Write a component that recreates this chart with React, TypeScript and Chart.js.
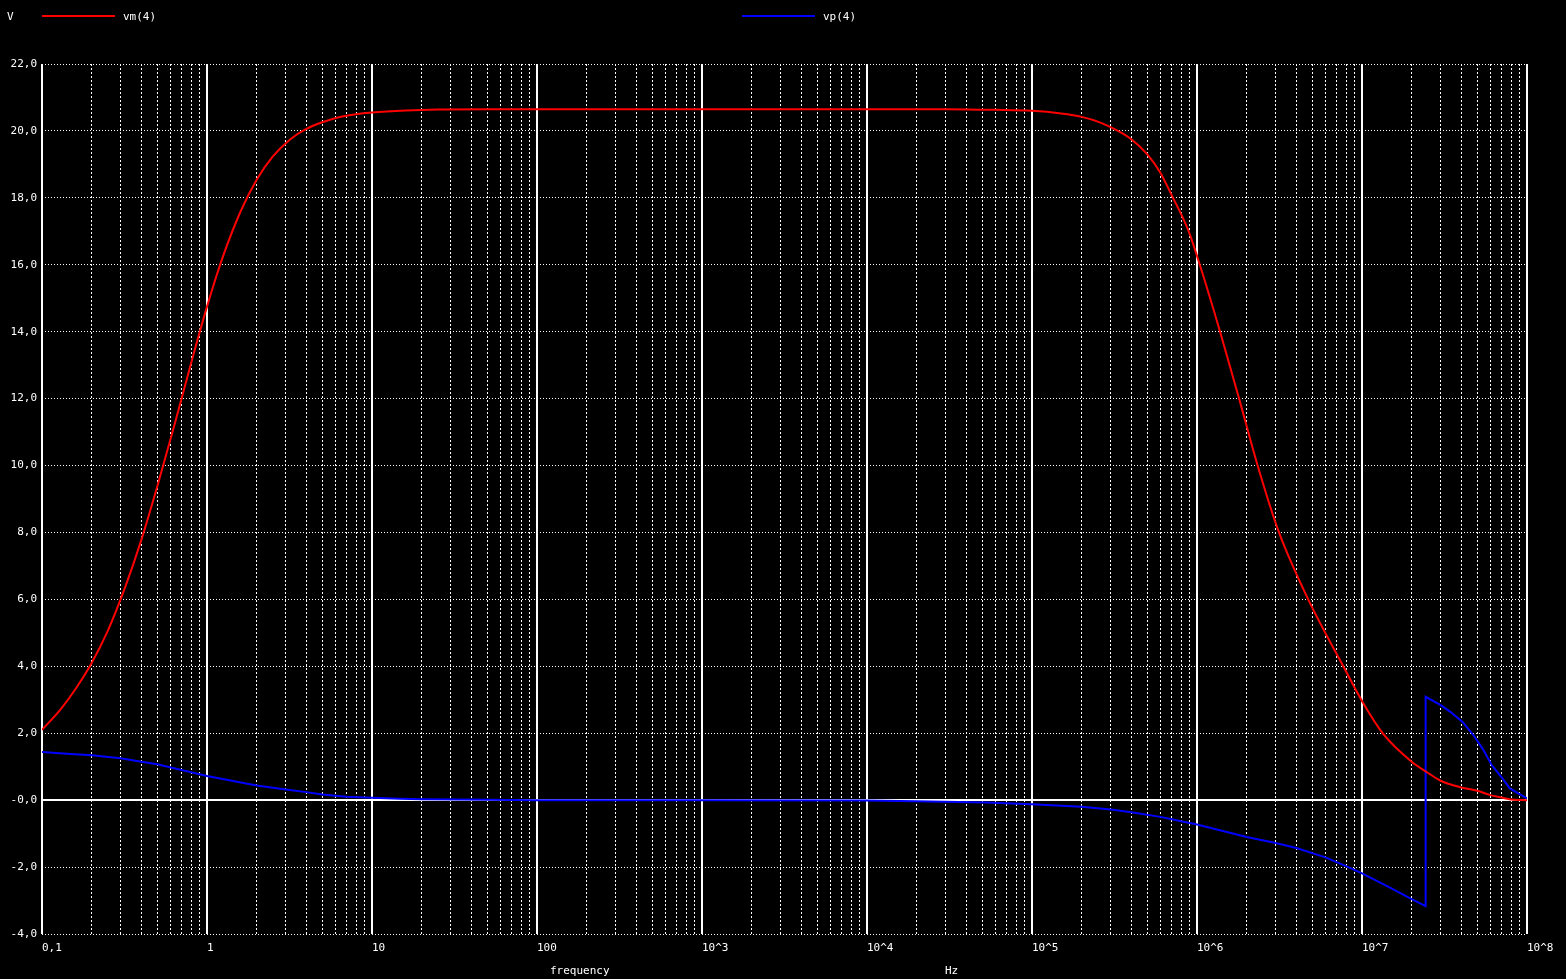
import React, { useEffect, useRef } from "react";
import { Chart, registerables } from "chart.js";

Chart.register(...registerables);

// ---- data ----
const freqVm = [0.1, 0.13, 0.16, 0.2, 0.25, 0.32, 0.4, 0.5, 0.63, 0.8, 1, 1.25, 1.6, 2, 2.5, 3.2, 4, 5, 6.3, 8, 10, 16, 25, 50, 100, 1e3, 1e4, 3e4, 6e4, 1e5, 1.5e5, 2e5, 2.6e5, 3.32e5, 4e5, 5e5, 6e5, 7.15e5, 8e5, 9e5, 1.04e6, 1.38e6, 1.8e6, 2.33e6, 3.14e6, 4.72e6, 7.7e6, 1.02e7, 1.34e7, 2e7, 2.45e7, 3e7, 4e7, 5e7, 6e7, 7e7, 8e7, 1e8];
const vmValues = [2.10, 2.72, 3.33, 4.10, 5.05, 6.38, 7.78, 9.38, 11.15, 13.05, 14.75, 16.25, 17.6, 18.54, 19.23, 19.75, 20.06, 20.26, 20.41, 20.5, 20.55, 20.61, 20.64, 20.65, 20.65, 20.65, 20.65, 20.65, 20.63, 20.6, 20.52, 20.42, 20.25, 20.0, 19.75, 19.3, 18.75, 18.0, 17.52, 16.94, 16.0, 14.0, 12.0, 10.0, 8.0, 6.0, 4.0, 2.89, 1.99, 1.15, 0.85, 0.58, 0.38, 0.28, 0.15, 0.08, 0.02, 0.0];

const freqVp = [0.1, 0.141, 0.2, 0.3, 0.4, 0.5, 0.7, 1, 1.44, 2, 3, 4, 5, 7, 10, 14.8, 20, 50, 100, 1e3, 1e4, 2e4, 5.3e4, 1e5, 2e5, 3e5, 4e5, 6e5, 8e5, 1e6, 2e6, 3e6, 4e6, 6e6, 8e6, 1e7, 1.42e7, 2e7, 2.43e7, 2.43e7, 3e7, 3.43e7, 4.07e7, 4.74e7, 5.38e7, 6.11e7, 7.1e7, 7.87e7, 1e8];
const vpValues = [1.44, 1.39, 1.34, 1.25, 1.15, 1.07, 0.90, 0.72, 0.57, 0.44, 0.32, 0.24, 0.17, 0.10, 0.07, 0.04, 0.03, 0.01, 0.0, 0.0, -0.01, -0.03, -0.07, -0.12, -0.2, -0.28, -0.36, -0.5, -0.63, -0.73, -1.1, -1.28, -1.43, -1.71, -1.97, -2.19, -2.57, -2.96, -3.17, 3.09, 2.84, 2.64, 2.34, 1.94, 1.54, 1.05, 0.65, 0.35, 0.05];

const seriesNames = ["vm(4)", "vp(4)"];
const seriesColors = ["#ff0000", "#0000ff"];

const xDecades = [0.1, 1, 10, 100, 1e3, 1e4, 1e5, 1e6, 1e7, 1e8];
const xTickLabels = ["0,1", "1", "10", "100", "10^3", "10^4", "10^5", "10^6", "10^7", "10^8"];
const yMin = -4;
const yMax = 22;
const yStep = 2;

const yAxisUnit = "V";
const xAxisName = "frequency";
const xAxisUnit = "Hz";

const FONT = "DejaVu Sans Mono";

function isDecade(v: number) {
  const l = Math.log10(v);
  return Math.abs(l - Math.round(l)) < 1e-9;
}

function yLabel(v: number) {
  if (Math.abs(v) < 1e-9) return "-0,0";
  return v.toFixed(1).replace(".", ",");
}

export default function App() {
  const ref = useRef<HTMLCanvasElement | null>(null);

  useEffect(() => {
    document.body.style.margin = "0";
    document.body.style.background = "#000";
    const canvas = ref.current!;

    const xTicks: { value: number; major: boolean }[] = [];
    for (let i = 0; i < xDecades.length - 1; i++) {
      for (let m = 1; m <= 9; m++) {
        const v = xDecades[i] * m;
        xTicks.push({ value: v, major: m === 1 });
      }
    }
    xTicks.push({ value: xDecades[xDecades.length - 1], major: true });

    const bgPlugin = {
      id: "bg",
      beforeDraw(chart: any) {
        const c = chart.ctx;
        c.save();
        c.fillStyle = "#000";
        c.fillRect(0, 0, chart.width, chart.height);
        c.restore();
      },
    };

    const textPlugin = {
      id: "texts",
      afterDraw(chart: any) {
        const c = chart.ctx;
        c.save();
        c.font = `11px "${FONT}"`;
        c.fillStyle = "#fff";
        c.textBaseline = "middle";
        c.textAlign = "left";
        c.fillText(yAxisUnit, 7, 17);
        const legendX = [42, 742];
        chart.data.datasets.forEach((ds: any, i: number) => {
          const x0 = legendX[i];
          c.strokeStyle = ds.borderColor;
          c.lineWidth = 2;
          c.beginPath();
          c.moveTo(x0, 16);
          c.lineTo(x0 + 73, 16);
          c.stroke();
          c.fillStyle = "#fff";
          c.fillText(ds.label, x0 + 81, 17);
        });
        c.fillText(xAxisName, 550, 971);
        c.fillText(xAxisUnit, 945, 971);
        c.restore();
      },
    };

    const chart = new Chart(canvas, {
      type: "scatter",
      data: {
        datasets: [
          {
            label: seriesNames[0],
            data: freqVm.map((f, i) => ({ x: f, y: vmValues[i] })),
            borderColor: seriesColors[0],
            backgroundColor: seriesColors[0],
            borderWidth: 2,
            showLine: true,
            pointRadius: 0,
            cubicInterpolationMode: "monotone",
          },
          {
            label: seriesNames[1],
            data: freqVp.map((f, i) => ({ x: f, y: vpValues[i] })),
            borderColor: seriesColors[1],
            backgroundColor: seriesColors[1],
            borderWidth: 2,
            showLine: true,
            pointRadius: 0,
            tension: 0,
          },
        ],
      },
      options: {
        responsive: false,
        animation: false,
        events: [],
        layout: { padding: { left: 0, right: 39, top: 64, bottom: 0 } },
        plugins: {
          legend: { display: false },
          title: { display: false },
          tooltip: { enabled: false },
        },
        scales: {
          x: {
            type: "logarithmic",
            min: 0.1,
            max: 1e8,
            afterBuildTicks: (scale: any) => {
              scale.ticks = xTicks.map((t) => ({ ...t }));
            },
            afterFit: (scale: any) => {
              scale.height = 45;
            },
            ticks: {
              autoSkip: false,
              maxRotation: 0,
              minRotation: 0,
              align: "start",
              padding: 8,
              color: "#fff",
              font: { family: FONT, size: 11 },
              callback: (value: any) => {
                const v = Number(value);
                if (!isDecade(v)) return "";
                const idx = xDecades.findIndex((d) => Math.abs(Math.log10(d) - Math.log10(v)) < 1e-9);
                return idx >= 0 ? xTickLabels[idx] : "";
              },
            },
            grid: {
              color: "#ffffff",
              drawTicks: false,
              lineWidth: (ctx: any) => (ctx.tick && isDecade(ctx.tick.value) ? 2 : 1),
            },
            border: {
              display: false,
              dash: (ctx: any) => (ctx.tick && isDecade(ctx.tick.value) ? [] : [2, 2]),
            },
          },
          y: {
            type: "linear",
            min: yMin,
            max: yMax,
            afterFit: (scale: any) => {
              scale.width = 42;
            },
            ticks: {
              stepSize: yStep,
              color: "#fff",
              padding: 5,
              font: { family: FONT, size: 11 },
              callback: (value: any) => yLabel(Number(value)),
            },
            grid: {
              color: "#ffffff",
              drawTicks: false,
              lineWidth: (ctx: any) => (ctx.tick && Math.abs(ctx.tick.value) < 1e-9 ? 2 : 1),
            },
            border: {
              display: false,
              dash: (ctx: any) => (ctx.tick && Math.abs(ctx.tick.value) < 1e-9 ? [] : [1, 2]),
            },
          },
        },
      },
      plugins: [bgPlugin, textPlugin],
    } as any);

    return () => chart.destroy();
  }, []);

  return (
    <div style={{ width: 1566, height: 979, background: "#000" }}>
      <canvas ref={ref} width={1566} height={979} style={{ display: "block" }} />
    </div>
  );
}
